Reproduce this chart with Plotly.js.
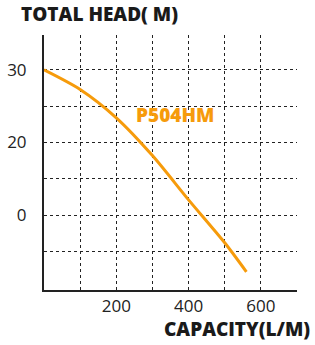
<!DOCTYPE html>
<html><head><meta charset="utf-8">
<script src="https://cdn.plot.ly/plotly-3.0.1.min.js"></script>
<style>html,body{margin:0;padding:0;background:#fff}#c{width:315px;height:345px}</style>
</head><body><div id="c"></div>
<script>
const capacity = [0, 100, 200, 300, 400, 500, 560];
const head = [30, 27.3, 23.4, 18.2, 12.1, 6.2, 2.2];
const yTickVals = [5, 10, 15, 20, 25, 30];
const yTickText = ['', '0', '', '20', '', '30'];
const xTickVals = [100, 200, 300, 400, 500, 600];
const xTickText = ['', '200', '', '400', '', '600'];
const seriesName = 'P504HM';
const orange = '#f69b0b';
const font = 'Open Sans, sans-serif';

Plotly.newPlot('c', [{
  x: capacity, y: head, mode: 'lines', type: 'scatter',
  line: {color: orange, width: 3, shape: 'spline', smoothing: 0.8},
  hoverinfo: 'skip'
}], {
  width: 315, height: 345,
  margin: {l: 44, r: 18, t: 35, b: 55},
  paper_bgcolor: '#fff', plot_bgcolor: '#fff',
  showlegend: false,
  xaxis: {
    range: [0, 700], tickvals: xTickVals, ticktext: xTickText,
    showgrid: true, gridcolor: '#222', gridwidth: 1, griddash: 'dot',
    showline: true, linecolor: '#222', linewidth: 2,
    ticks: '', zeroline: false,
    tickfont: {family: font, size: 17, color: '#222'}
  },
  yaxis: {
    range: [-0.3, 34.8], tickvals: yTickVals, ticktext: yTickText,
    showgrid: true, gridcolor: '#222', gridwidth: 1, griddash: 'dot',
    showline: true, linecolor: '#222', linewidth: 2,
    ticks: 'outside', ticklen: 12, tickcolor: 'rgba(0,0,0,0)', zeroline: false,
    tickfont: {family: font, size: 17, color: '#222'}
  },
  annotations: [
    {text: 'TOTAL HEAD( M)', xref: 'paper', yref: 'paper', x: -0.1, y: 1.0, yshift: 6,
     xanchor: 'left', yanchor: 'bottom', showarrow: false,
     font: {family: font, size: 19, color: '#1a1a1a', weight: 800}},
    {text: 'CAPACITY(L/M)', xref: 'paper', yref: 'paper', x: 1.058, y: 0, yshift: -54,
     xanchor: 'right', yanchor: 'bottom', showarrow: false,
     font: {family: font, size: 19, color: '#1a1a1a', weight: 800}},
    {text: seriesName, xref: 'x', yref: 'y', x: 250, y: 23.8,
     xanchor: 'left', yanchor: 'middle', showarrow: false,
     font: {family: font, size: 19, color: orange, weight: 800}}
  ]
}, {displayModeBar: false, staticPlot: true});
</script></body></html>
